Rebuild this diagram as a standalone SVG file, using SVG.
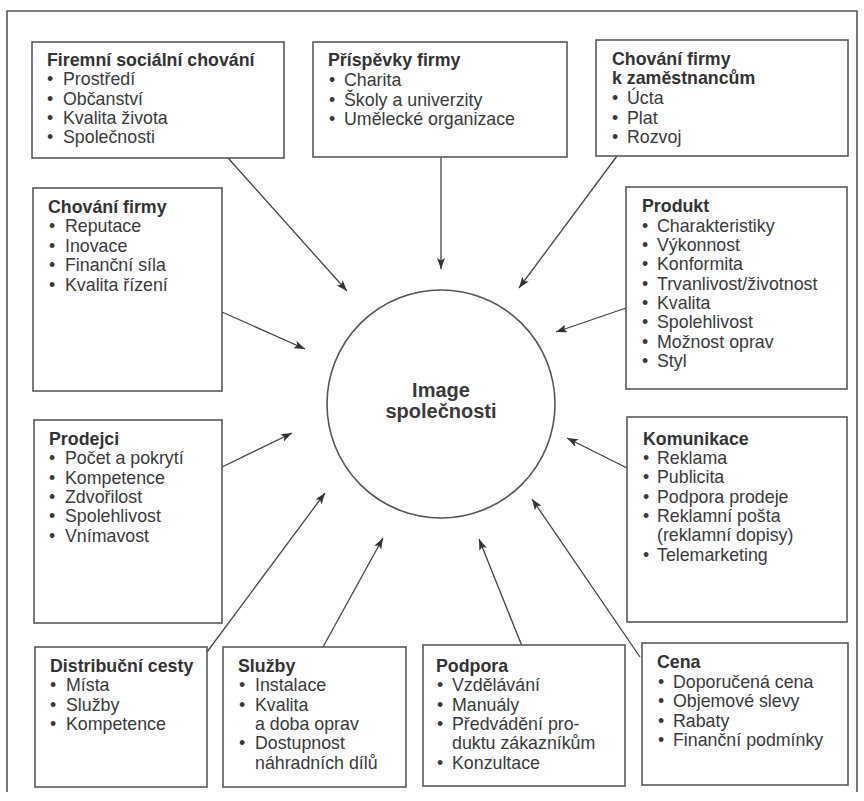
<svg xmlns="http://www.w3.org/2000/svg" width="864" height="801" viewBox="0 0 864 801">
<style>
  .box { fill: #fff; stroke: #5a5a5a; stroke-width: 1.6; }
  .t { font-family: "Liberation Sans", Arial, sans-serif; font-size: 17.8px; fill: #3a3a3a; }
  .h { font-weight: bold; fill: #333; }
  .c { font-family: "Liberation Sans", Arial, sans-serif; font-size: 20px; font-weight: bold; fill: #3a3a3a; text-anchor: middle; }
  .ln { stroke: #444; stroke-width: 1.3; fill: none; marker-end: url(#ah); }
</style>
<defs>
  <marker id="ah" markerUnits="userSpaceOnUse" markerWidth="12" markerHeight="9" refX="11" refY="4" orient="auto">
    <path d="M0,0 L11,4 L0,8 L2.5,4 z" fill="#333"/>
  </marker>
</defs>
<rect width="864" height="801" fill="#fff"/>
<path d="M7,792 V11 H857 V792" fill="none" stroke="#555" stroke-width="1.6"/>

<g id="connectors">
  <line class="ln" x1="228" y1="158" x2="347" y2="291"/>
  <line class="ln" x1="441" y1="157" x2="441" y2="269"/>
  <line class="ln" x1="617" y1="156" x2="519" y2="288"/>
  <line class="ln" x1="222" y1="312" x2="305" y2="349"/>
  <line class="ln" x1="626" y1="308" x2="556" y2="332"/>
  <line class="ln" x1="222" y1="467" x2="292" y2="433"/>
  <line class="ln" x1="627" y1="468" x2="567" y2="438"/>
  <line class="ln" x1="207" y1="652" x2="325" y2="493"/>
  <line class="ln" x1="323" y1="647" x2="383" y2="538"/>
  <line class="ln" x1="522" y1="646" x2="479" y2="539"/>
  <line class="ln" x1="640" y1="657" x2="532" y2="499"/>
</g>

<g id="center">
  <circle cx="441" cy="404" r="114" fill="#fff" stroke="#555" stroke-width="1.6"/>
  <text class="c" x="441" y="397">Image</text>
  <text class="c" x="441" y="418">společnosti</text>
</g>

<g id="firemni-socialni">
  <rect class="box" x="32" y="42" width="252" height="116"/>
  <text class="t h" x="47" y="66">Firemní sociální chování</text>
  <text class="t" x="47" y="85">•</text><text class="t" x="63" y="85">Prostředí</text>
  <text class="t" x="47" y="105">•</text><text class="t" x="63" y="105">Občanství</text>
  <text class="t" x="47" y="124">•</text><text class="t" x="63" y="124">Kvalita života</text>
  <text class="t" x="47" y="143">•</text><text class="t" x="63" y="143">Společnosti</text>
</g>

<g id="prispevky">
  <rect class="box" x="313" y="42" width="254" height="115"/>
  <text class="t h" x="328" y="66">Příspěvky firmy</text>
  <text class="t" x="329" y="86">•</text><text class="t" x="344" y="86">Charita</text>
  <text class="t" x="329" y="106">•</text><text class="t" x="344" y="106">Školy a univerzity</text>
  <text class="t" x="329" y="125">•</text><text class="t" x="344" y="125">Umělecké organizace</text>
</g>

<g id="chovani-zamestnanci">
  <rect class="box" x="596" y="40" width="252" height="116"/>
  <text class="t h" x="612" y="65">Chování firmy</text>
  <text class="t h" x="612" y="84">k zaměstnancům</text>
  <text class="t" x="612" y="104">•</text><text class="t" x="627" y="104">Úcta</text>
  <text class="t" x="612" y="124">•</text><text class="t" x="627" y="124">Plat</text>
  <text class="t" x="612" y="143">•</text><text class="t" x="627" y="143">Rozvoj</text>
</g>

<g id="chovani-firmy">
  <rect class="box" x="33" y="188" width="189" height="203"/>
  <text class="t h" x="48" y="213">Chování firmy</text>
  <text class="t" x="49" y="232">•</text><text class="t" x="65" y="232">Reputace</text>
  <text class="t" x="49" y="252">•</text><text class="t" x="65" y="252">Inovace</text>
  <text class="t" x="49" y="271">•</text><text class="t" x="65" y="271">Finanční síla</text>
  <text class="t" x="49" y="291">•</text><text class="t" x="65" y="291">Kvalita řízení</text>
</g>

<g id="produkt">
  <rect class="box" x="626" y="187" width="221" height="202"/>
  <text class="t h" x="642" y="212">Produkt</text>
  <text class="t" x="642" y="232">•</text><text class="t" x="657" y="232">Charakteristiky</text>
  <text class="t" x="642" y="251">•</text><text class="t" x="657" y="251">Výkonnost</text>
  <text class="t" x="642" y="270">•</text><text class="t" x="657" y="270">Konformita</text>
  <text class="t" x="642" y="290">•</text><text class="t" x="657" y="290">Trvanlivost/životnost</text>
  <text class="t" x="642" y="309">•</text><text class="t" x="657" y="309">Kvalita</text>
  <text class="t" x="642" y="328">•</text><text class="t" x="657" y="328">Spolehlivost</text>
  <text class="t" x="642" y="348">•</text><text class="t" x="657" y="348">Možnost oprav</text>
  <text class="t" x="642" y="367">•</text><text class="t" x="657" y="367">Styl</text>
</g>

<g id="prodejci">
  <rect class="box" x="34" y="420" width="188" height="203"/>
  <text class="t h" x="49" y="445">Prodejci</text>
  <text class="t" x="49" y="464">•</text><text class="t" x="65" y="464">Počet a pokrytí</text>
  <text class="t" x="49" y="484">•</text><text class="t" x="65" y="484">Kompetence</text>
  <text class="t" x="49" y="503">•</text><text class="t" x="65" y="503">Zdvořilost</text>
  <text class="t" x="49" y="522">•</text><text class="t" x="65" y="522">Spolehlivost</text>
  <text class="t" x="49" y="542">•</text><text class="t" x="65" y="542">Vnímavost</text>
</g>

<g id="komunikace">
  <rect class="box" x="627" y="417" width="220" height="205"/>
  <text class="t h" x="643" y="445">Komunikace</text>
  <text class="t" x="643" y="464">•</text><text class="t" x="657" y="464">Reklama</text>
  <text class="t" x="643" y="483">•</text><text class="t" x="657" y="483">Publicita</text>
  <text class="t" x="643" y="503">•</text><text class="t" x="657" y="503">Podpora prodeje</text>
  <text class="t" x="643" y="522">•</text><text class="t" x="657" y="522">Reklamní pošta</text>
  <text class="t" x="657" y="541">(reklamní dopisy)</text>
  <text class="t" x="643" y="561">•</text><text class="t" x="657" y="561">Telemarketing</text>
</g>

<g id="distribucni-cesty">
  <rect class="box" x="35" y="647" width="172" height="140"/>
  <text class="t h" x="50" y="672">Distribuční cesty</text>
  <text class="t" x="50" y="691">•</text><text class="t" x="66" y="691">Místa</text>
  <text class="t" x="50" y="711">•</text><text class="t" x="66" y="711">Služby</text>
  <text class="t" x="50" y="730">•</text><text class="t" x="66" y="730">Kompetence</text>
</g>

<g id="sluzby">
  <rect class="box" x="223" y="647" width="183" height="140"/>
  <text class="t h" x="238" y="672">Služby</text>
  <text class="t" x="239" y="691">•</text><text class="t" x="255" y="691">Instalace</text>
  <text class="t" x="239" y="711">•</text><text class="t" x="255" y="711">Kvalita</text>
  <text class="t" x="255" y="730">a doba oprav</text>
  <text class="t" x="239" y="749">•</text><text class="t" x="255" y="749">Dostupnost</text>
  <text class="t" x="255" y="769">náhradních dílů</text>
</g>

<g id="podpora">
  <rect class="box" x="423" y="645" width="202" height="141"/>
  <text class="t h" x="436" y="672">Podpora</text>
  <text class="t" x="437" y="691">•</text><text class="t" x="452" y="691">Vzdělávání</text>
  <text class="t" x="437" y="711">•</text><text class="t" x="452" y="711">Manuály</text>
  <text class="t" x="437" y="730">•</text><text class="t" x="452" y="730">Předvádění pro-</text>
  <text class="t" x="452" y="749">duktu zákazníkům</text>
  <text class="t" x="437" y="769">•</text><text class="t" x="452" y="769">Konzultace</text>
</g>

<g id="cena">
  <rect class="box" x="642" y="643" width="206" height="142"/>
  <text class="t h" x="657" y="668">Cena</text>
  <text class="t" x="658" y="688">•</text><text class="t" x="673" y="688">Doporučená cena</text>
  <text class="t" x="658" y="707">•</text><text class="t" x="673" y="707">Objemové slevy</text>
  <text class="t" x="658" y="727">•</text><text class="t" x="673" y="727">Rabaty</text>
  <text class="t" x="658" y="746">•</text><text class="t" x="673" y="746">Finanční podmínky</text>
</g>
</svg>
